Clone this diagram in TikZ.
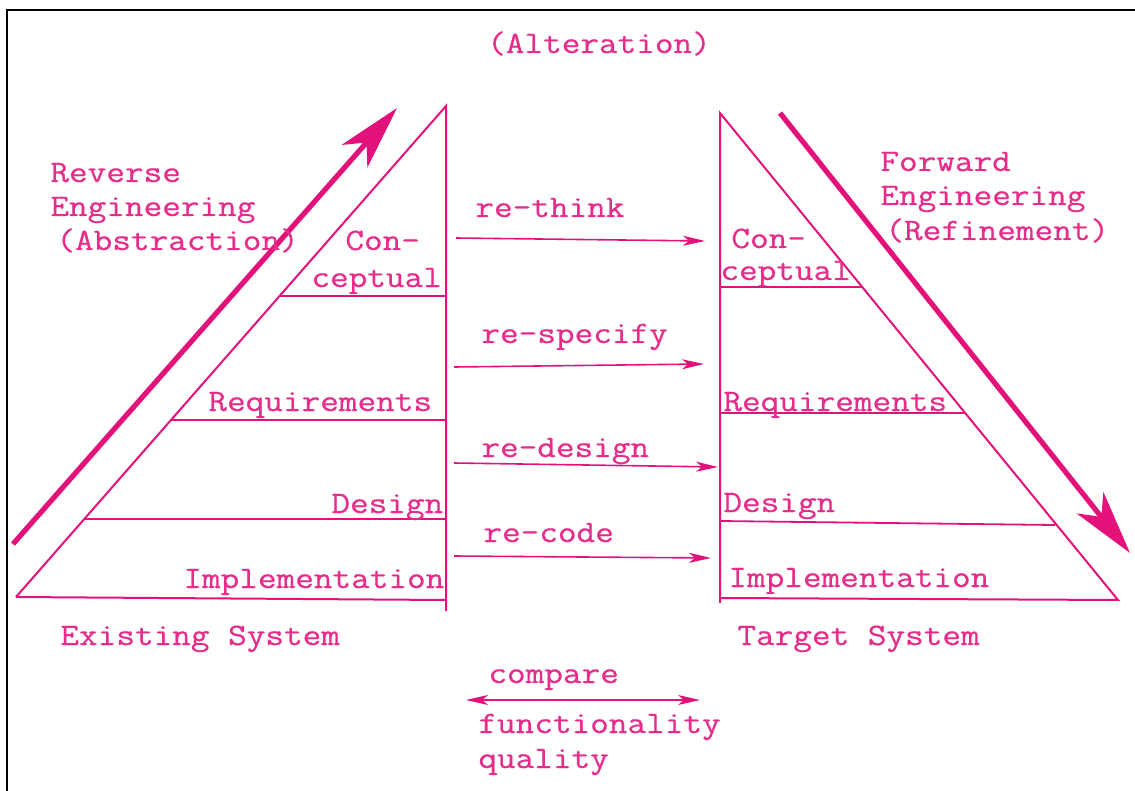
\documentclass[tikz,border=0pt]{standalone}
\usepackage{fontspec}
\setmonofont[FakeStretch=1.16,FakeBold=0.6]{Latin Modern Mono}
\usetikzlibrary{arrows.meta}
\definecolor{pk}{RGB}{226,18,122}
\definecolor{pktext}{RGB}{230,45,138}
\begin{document}
\begin{tikzpicture}[x={(0.5pt,0)}, y={(0,-0.5pt)},
  lbl/.style={inner sep=0, anchor=base west, font=\ttfamily\fontsize{15.6}{17}\selectfont, text=pktext},
  tri/.style={draw=pk, line width=1pt, line join=miter},
  lvl/.style={draw=pk, line width=0.9pt},
  thinarrow/.style={draw=pk, line width=0.8pt, -{Stealth[length=11pt,width=5pt,inset=3pt]}},
  botharrow/.style={draw=pk, line width=0.8pt, {Stealth[length=11pt,width=5pt,inset=3pt]}-{Stealth[length=11pt,width=5pt,inset=3pt]}},
  bigarrow/.style={draw=pk, line width=2.6pt, -{Stealth[length=32pt,width=17pt,inset=9pt]}},
  frame/.style={draw=black, line width=1pt}
]
\useasboundingbox (0,0) rectangle (1135,791);
% frame
\draw[frame] (7,791) -- (7,10) -- (1135,10);

% ---------- left triangle (Existing System)
\coordinate (LA) at (446,106);
\coordinate (LB) at (16,597);
\coordinate (LC) at (446,600);
\draw[tri] (LB) -- (LA) -- (446,611);
\draw[tri] (LB) -- (LC);
\draw[lvl] (280,296) -- (446,296);
\draw[lvl] (171,420) -- (446,420);
\draw[lvl] (84,519) -- (446,519);

% ---------- right triangle (Target System)
\coordinate (RA) at (720,113);
\coordinate (RB) at (1118,600);
\draw[tri] (720,603) -- (RA) -- (RB) -- (720,598);
\draw[lvl] (720,287) -- (862,287);
\draw[lvl] (720,413) -- (965,413);
\draw[lvl] (720,521) -- (1055,525);

% ---------- big arrows
\coordinate (revS) at (13,544);
\coordinate (revE) at (397,108);
\draw[bigarrow] (revS) -- (revE);
\coordinate (fwdS) at (780,113);
\coordinate (fwdE) at (1130,553);
\draw[bigarrow] (fwdS) -- (fwdE);

% ---------- texts
\node[lbl, anchor=base] (alt) at (599,53) {(Alteration)};

\node[lbl] (rev1) at (50,182) {Reverse};
\node[lbl] (rev2) at (50,216) {Engineering};
\node[lbl] (rev3) at (56,250) {(Abstraction)};

\node[lbl] (fwd1) at (880,171) {Forward};
\node[lbl] (fwd2) at (880,205) {Engineering};
\node[lbl] (fwd3) at (885,240) {(Refinement)};

\node[lbl] (lcon) at (345,250) {Con-};
\node[lbl] (lcep) at (311,287) {ceptual};
\node[lbl] (lreq) at (208,411) {Requirements};
\node[lbl] (ldes) at (331,513) {Design};
\node[lbl] (limp) at (183,588) {Implementation};

\node[lbl] (rcon) at (731,248) {Con-};
\node[lbl] (rcep) at (720,280) {ceptual};
\node[lbl] (rreq) at (723,411) {Requirements};
\node[lbl] (rdes) at (723,512) {Design};
\node[lbl] (rimp) at (728,587) {Implementation};

\node[lbl] (think) at (475,217) {re-think};
\node[lbl] (spec) at (481,343) {re-specify};
\node[lbl] (desg) at (481,457) {re-design};
\node[lbl] (code) at (483,542) {re-code};

\node[lbl] (exist) at (60,645) {Existing System};
\node[lbl] (targ) at (737,645) {Target System};

\node[lbl] (cmp) at (488,683) {compare};
\node[lbl] (func) at (478,733) {functionality};
\node[lbl] (qual) at (478,768) {quality};

% ---------- middle arrows
\coordinate (a1s) at (456,238); \coordinate (a1e) at (705,241);
\coordinate (a2s) at (454,367); \coordinate (a2e) at (704,364);
\coordinate (a3s) at (454,463); \coordinate (a3e) at (718,467);
\coordinate (a4s) at (454,556); \coordinate (a4e) at (711,558);
\draw[thinarrow] (a1s) -- (a1e);
\draw[thinarrow] (a2s) -- (a2e);
\draw[thinarrow] (a3s) -- (a3e);
\draw[thinarrow] (a4s) -- (a4e);

\coordinate (cs) at (466,700); \coordinate (ce) at (700,700);
\draw[botharrow] (cs) -- (ce);
\end{tikzpicture}
\end{document}
